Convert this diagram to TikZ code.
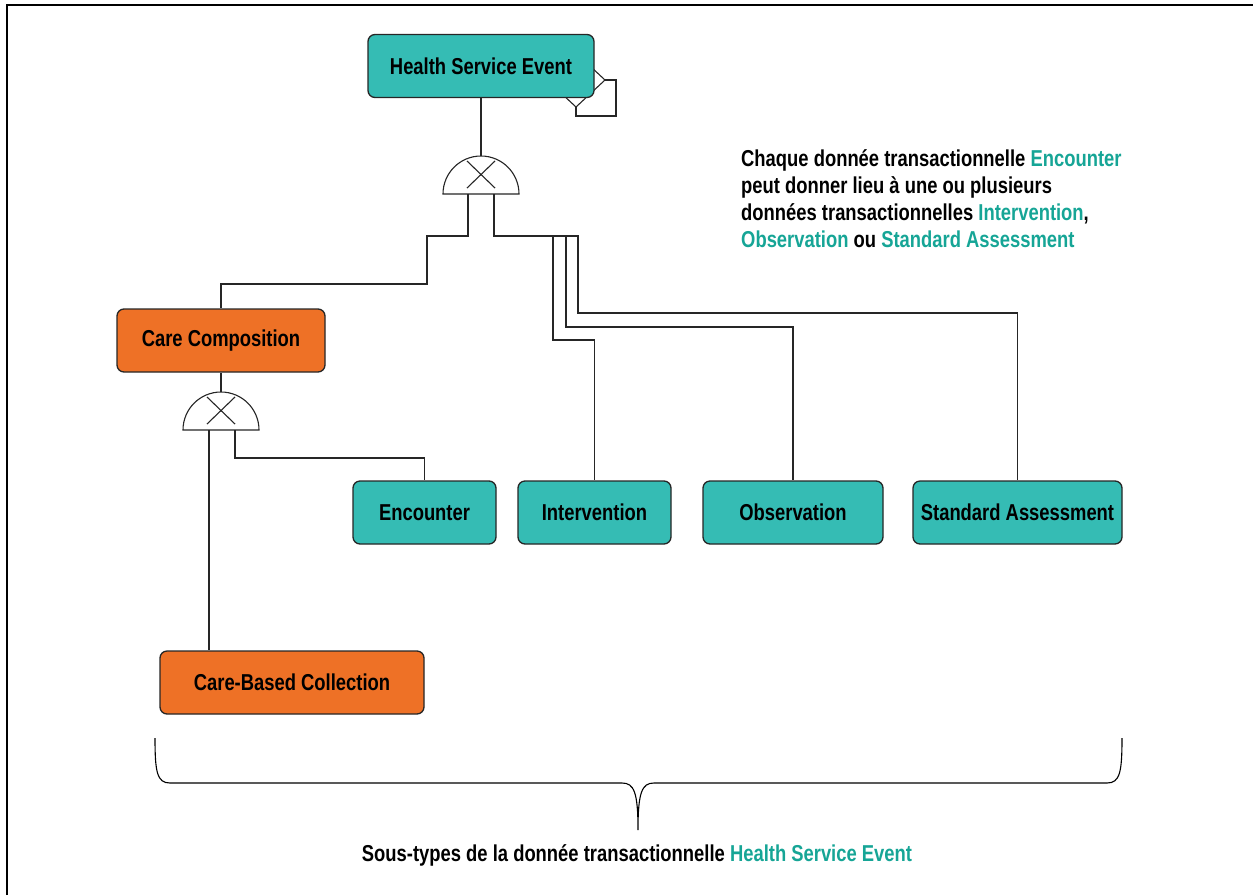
\documentclass[tikz,border=0pt]{standalone}
\usepackage{fontspec}
\setmainfont{Liberation Sans}[FakeStretch=0.8]
\usepackage{tikz}
\usetikzlibrary{shapes.geometric}

\definecolor{tealbox}{HTML}{35BCB4}
\definecolor{tealtext}{HTML}{16A596}
\definecolor{orangebox}{HTML}{EE7126}

\tikzset{
    entity/.style={draw=black!85, line width=1.3pt, rounded corners=7pt,
        minimum height=63pt, inner sep=0pt,
        font=\fontsize{23}{27}\selectfont\bfseries},
    event/.style={entity, fill=tealbox},
    care/.style={entity, fill=orangebox},
    link/.style={line width=1.1pt, black!85},
    gate/.style={line width=1.1pt, black!85, fill=white}
}
\newcommand{\tl}[1]{\textcolor{tealtext}{#1}}

\begin{document}
\begin{tikzpicture}[x=1pt, y=1pt, yscale=-1]
        \useasboundingbox (0,0) rectangle (1253,895);
        \draw[line width=2.2pt] (7,895) -- (7,5) -- (1253,5);

        % recursive link behind the box
        \coordinate (D) at (576,80);
        \draw[link] (D) ++(-29,0) -- ++(29,-27) -- ++(29,27) -- ++(-29,27) -- cycle;
        \draw[link] (605,80) -- (616,80) -- (616,116) -- (576,116) -- (576,107);

        \node[event, minimum width=226pt] (hse) at (481,66) {Health Service Event};
        \node[care, minimum width=208pt] (cc) at (221,340.5) {Care Composition};
        \node[care, minimum width=264pt] (cbc) at (292,682.5) {Care-Based Collection};
        \node[event, minimum width=143pt] (enc) at (424.5,512.5) {Encounter};
        \node[event, minimum width=153pt] (int) at (594.5,512.5) {Intervention};
        \node[event, minimum width=180pt] (obs) at (793,512.5) {Observation};
        \node[event, minimum width=209pt] (std) at (1017.5,512.5) {Standard Assessment};

        % exclusive gates
        \coordinate (G1) at (481,194);
        \coordinate (G1t) at (481,156);
        \coordinate (G1l) at (468,194);
        \coordinate (G1r) at (494,194);
        \coordinate (G2) at (221,430);
        \coordinate (G2t) at (221,392);
        \coordinate (G2l) at (209,430);
        \coordinate (G2r) at (235,430);
        \foreach \g in {G1,G2}{
            \draw[gate] (\g) ++(-38,0) arc (180:360:38) -- cycle;
            \draw[link] (\g) ++(-14,-6) -- ++(28,-27);
            \draw[link] (\g) ++(-14,-33) -- ++(28,27);
        }

        \draw[link] (hse.south) -- (G1t);
        \draw[link] (G1l) |- (427,236) |- (221,284) -- (cc.north);
        \draw[link] (G1r) |- (578,236) -- (578,313) -| (std.north);
        \draw[link] (566,236) -- (566,327) -| (obs.north);
        \draw[link] (553,236) -- (553,340) -| (int.north);

        \draw[link] (cc.south) -- (G2t);
        \draw[link] (G2l) -- (G2l |- cbc.north);
        \draw[link] (G2r) -- (235,458) -| (enc.north);

        \node[anchor=north west, align=left, inner sep=0pt,
            font=\fontsize{23}{27}\selectfont\bfseries] (note) at (741,149)
            {Chaque donnée transactionnelle \tl{Encounter}\\
             peut donner lieu à une ou plusieurs\\
             données transactionnelles \tl{Intervention},\\
             \tl{Observation} ou \tl{Standard Assessment}};

        % brace
        \coordinate (tip) at (638,830);
        \draw[line width=1.1pt] (155,738) .. controls (155,772) and (157,783) .. (170,783)
            -- (622,783) .. controls (634,783) and (638,792) .. (tip)
            .. controls (638,792) and (642,783) .. (654,783)
            -- (1107,783) .. controls (1120,783) and (1122,772) .. (1122,738);
        \node[font=\fontsize{23}{27}\selectfont\bfseries] (caption) at (637,855)
            {Sous-types de la donnée transactionnelle \tl{Health Service Event}};
    \end{tikzpicture}
\end{document}
